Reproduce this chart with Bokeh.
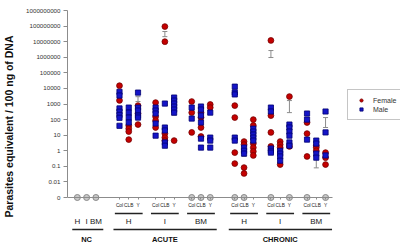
from bokeh.plotting import figure
from bokeh.models import ColumnDataSource, FixedTicker, Range1d, Whisker, TeeHead, LinearAxis
from bokeh.core.properties import value
from bokeh.embed import file_html
from bokeh.resources import INLINE

# ---------------- data ----------------
strains = ["Col", "CLB", "Y"]
organs = ["H", "I", "BM"]
periods = ["ACUTE", "CHRONIC"]
nc_organs = ["H", "I", "BM"]

# columns inside a period: H-Col, H-CLB, H-Y, I-Col, I-CLB, I-Y, BM-Col, BM-CLB, BM-Y
acute_female = [
    [15000, 1700], [41, 26, 17, 5.2], [790, 245, 48],
    [1230, 155, 87, 31], [9.3e7, 1.0e7, 12.6, 7, 4.5], [4.5],
    [1440, 280, 15], [280, 135, 31, 8.2], [930, 590],
]
acute_male = [
    [6000, 3500, 520, 320, 200, 130, 40], [590, 280, 135, 65], [5400, 590, 380, 180, 135],
    [590, 380, 245, 56, 9.3], [1070, 31, 20, 3.4, 2.1], [2600, 1660, 1070, 680, 440, 280],
    [590, 117], [690, 440, 180, 65, 6, 1.6], [280, 7, 4.5, 1.6],
]
chronic_female = [
    [790, 135, 0.76, 0.15], [3.9, 2.5, 0.083, 0.035], [100, 42, 2.9, 1.6, 0.9, 0.5],
    [1.2e7, 180, 15, 1.9], [3.9, 2.5, 1.6, 0.13], [3000, 1.9],
    [65, 12.6, 0.43], [2.1, 1.6, 1.0], [0.76, 0.36, 0.13],
]
chronic_male = [
    [13000, 5500, 4100, 7, 4.5], [1.6, 1.0, 0.66], [26, 17, 11, 7, 4.5],
    [590, 330, 1.4, 1.0, 0.76], [1.0, 0.66, 0.43, 0.23], [48, 31, 17, 9.3, 3.4, 2.1],
    [245, 100, 5.2], [4.5, 2.9, 0.66, 0.36], [330, 15, 0.5],
]
# columns with undetected (0) samples
acute_zero_cols = [6, 7, 8]
chronic_zero_cols = [0, 1, 3, 5, 6, 8]
# mean +/- SEM error bars: (column index, lower, upper)
acute_err = [(2, 1440, 2950), (3, 31, 74), (4, 2.1e7, 4.5e7), (5, 190, 290)]
chronic_err = [(1, 0.43, 2.1), (3, 9.6e5, 2.7e6), (5, 280, 1660), (7, 0.08, 1.0), (8, 31, 135)]

ZERO = 1e-3  # where "0" is drawn on the log axis
y_ticks = [1e-3, 1e-2, 1e-1, 1, 10, 100, 1e3, 1e4, 1e5, 1e6, 1e7, 1e8, 1e9]
y_tick_labels = ["0", "0.01", "0.1", "1", "10", "100", "1000", "10000", "100000",
                 "1000000", "10000000", "100000000", "1000000000"]

# ---------------- category layout ----------------
nc_x = [0, 1, 2]
period_start = {"ACUTE": 4.55, "CHRONIC": 17.0}
organ_step = 3.9

def col_x(period, idx):
    return period_start[period] + (idx // 3) * organ_step + (idx % 3)

fem_x, fem_y, mal_x, mal_y = [], [], [], []
for period, fem, mal in (("ACUTE", acute_female, acute_male), ("CHRONIC", chronic_female, chronic_male)):
    for i, vals in enumerate(fem):
        fem_x += [col_x(period, i)] * len(vals); fem_y += vals
    for i, vals in enumerate(mal):
        mal_x += [col_x(period, i)] * len(vals); mal_y += vals

zero_x = list(nc_x) + [col_x("ACUTE", i) for i in acute_zero_cols] + [col_x("CHRONIC", i) for i in chronic_zero_cols]
err_x, err_lo, err_hi = [], [], []
for period, errs in (("ACUTE", acute_err), ("CHRONIC", chronic_err)):
    for i, lo, hi in errs:
        err_x.append(col_x(period, i)); err_lo.append(lo); err_hi.append(hi)

strain_ticks = [col_x(pd, i) for pd in periods for i in range(9)]
strain_tick_labels = [strains[i % 3] for pd in periods for i in range(9)]

# ---------------- figure ----------------
FONT = "Liberation Sans"
X0 = -1.064
p = figure(width=400, height=252, output_backend="svg", toolbar_location=None,
           y_axis_type="log",
           x_range=Range1d(X0, X0 + 338 / 9.4),
           y_range=Range1d(10 ** -6.529, 10 ** 9.642),
           min_border_left=62, min_border_right=0, min_border_top=0, min_border_bottom=0,
           x_axis_location=None)
p.outline_line_color = None
p.xgrid.visible = False
p.ygrid.visible = False
p.background_fill_color = "white"
p.border_fill_color = "white"

ya = p.yaxis[0]
ya.ticker = FixedTicker(ticks=y_ticks)
ya.major_label_overrides = {t: l for t, l in zip(y_ticks, y_tick_labels)}
ya.bounds = (ZERO, 1e9)
ya.axis_line_color = "#8c8c8c"
ya.major_tick_line_color = "#8c8c8c"
ya.minor_tick_line_color = None
ya.major_tick_out = 4
ya.major_tick_in = 0
ya.major_label_standoff = 3
ya.major_label_text_font = FONT
ya.major_label_text_font_size = "6.2px"
ya.major_label_text_color = "#333333"
ya.axis_label = "Parasites equivalent / 100 ng of DNA"
ya.axis_label_text_font = FONT
ya.axis_label_text_font_size = "10.5px"
ya.axis_label_text_font_style = "bold"
ya.axis_label_text_color = "#111111"
ya.axis_label_standoff = 8

# x axis drawn at the "0" level, strain names as its tick labels
xa = LinearAxis(fixed_location=ZERO, ticker=FixedTicker(ticks=strain_ticks), bounds=(X0, 27.5))
xa.major_label_overrides = {t: l for t, l in zip(strain_ticks, strain_tick_labels)}
xa.axis_line_color = "#8c8c8c"
xa.major_tick_line_color = "#8c8c8c"
xa.minor_tick_line_color = None
xa.major_tick_out = 2
xa.major_tick_in = 0
xa.major_label_standoff = 3
xa.major_label_orientation = "horizontal"
xa.major_label_text_font = FONT
xa.major_label_text_font_size = "4.8px"
xa.major_label_text_color = "#222222"
p.add_layout(xa, "below")

# undetected samples
p.scatter(x=zero_x, y=[ZERO] * len(zero_x), marker="circle", size=6,
          fill_color="#c8c8c8", line_color="#8a8a8a", line_width=1)

# error bars
esrc = ColumnDataSource(dict(x=err_x, lo=err_lo, hi=err_hi))
p.add_layout(Whisker(source=esrc, base="x", lower="lo", upper="hi", line_color="#8c8c8c", line_width=1,
                     upper_head=TeeHead(size=5, line_color="#8c8c8c", line_width=1),
                     lower_head=TeeHead(size=5, line_color="#8c8c8c", line_width=1)))

# data points
p.scatter(x=fem_x, y=fem_y, marker="circle", size=5.8, fill_color="#c40000",
          line_color="#760000", line_width=0.8, legend_label="Female")
p.scatter(x=mal_x, y=mal_y, marker="square", size=5.2, fill_color="#1414c8",
          line_color="#000070", line_width=0.8, legend_label="Male")

# category labels below the axis
Y_SHORT = 10 ** -4.03
Y_ORGAN = 10 ** -4.54
Y_LONG = 10 ** -5.05
Y_PERIOD = 10 ** -5.70

ox = [col_x(pd, 3 * k + 1) for pd in periods for k in range(3)] + nc_x
ot = [organs[k] for pd in periods for k in range(3)] + nc_organs
p.text(x=ox, y=[Y_ORGAN] * len(ox), text=ot, text_font=value(FONT), text_font_size="8px",
       text_color="#222222", text_align="center", text_baseline="middle")

s0 = [col_x(pd, 3 * k) - 0.5 for pd in periods for k in range(3)]
s1 = [col_x(pd, 3 * k + 2) + 0.5 for pd in periods for k in range(3)]
p.segment(x0=s0, x1=s1, y0=[Y_SHORT] * len(s0), y1=[Y_SHORT] * len(s0), line_color="#222222", line_width=1.5)

l0 = [nc_x[0] - 0.55] + [col_x(pd, 0) - 0.65 for pd in periods]
l1 = [nc_x[-1] + 0.8] + [col_x(pd, 8) + 0.7 for pd in periods]
p.segment(x0=l0, x1=l1, y0=[Y_LONG] * 3, y1=[Y_LONG] * 3, line_color="#222222", line_width=1.5)

px_ = [nc_x[1]] + [col_x(pd, 4) for pd in periods]
p.text(x=px_, y=[Y_PERIOD] * 3, text=["NC"] + periods, text_font=value(FONT), text_font_size="7.5px",
       text_font_style="bold", text_color="#111111", text_align="center", text_baseline="middle")

# legend
lg = p.legend[0]
lg.location = (280, 132)
lg.margin = 0
lg.padding = 6
lg.spacing = 1
lg.glyph_width = 14
lg.glyph_height = 8
lg.label_height = 8
lg.label_standoff = 5
lg.label_text_font = FONT
lg.label_text_font_size = "7px"
lg.label_text_color = "#333333"
lg.border_line_color = "#8c8c8c"
lg.border_line_width = 1
lg.background_fill_color = "white"

open("out.html", "w").write(file_html(p, INLINE))
